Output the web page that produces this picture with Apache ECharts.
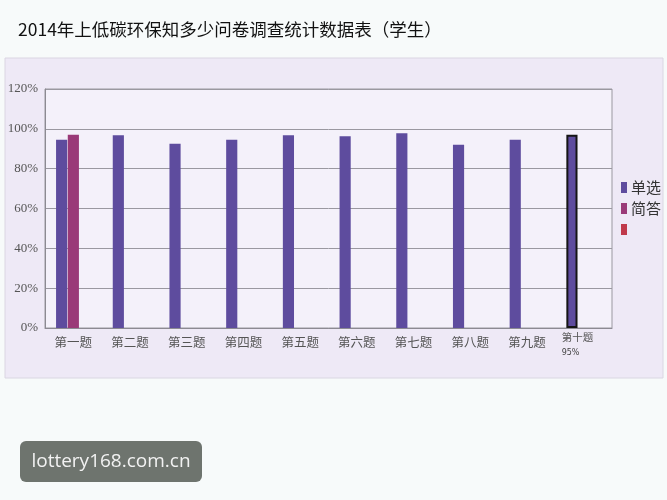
<!DOCTYPE html>
<html>
<head>
<meta charset="utf-8">
<script src="https://cdn.jsdelivr.net/npm/echarts@6/dist/echarts.min.js"></script>
<style>
html,body{margin:0;padding:0;background:#F7FAFA;}
#c{width:667px;height:500px;}
</style>
</head>
<body>
<div id="c"></div>
<script>
var titleText = '2014年上低碳环保知多少问卷调查统计数据表（学生）';
var categories = ['第一题','第二题','第三题','第四题','第五题','第六题','第七题','第八题','第九题','第十题'];
var categoryNotes = ['','','','','','','','','','95%'];
var seriesNames = ['单选','简答',' '];
var singleChoice = [94.5, 96.8, 92.5, 94.5, 96.8, 96.3, 97.8, 92, 94.5, 97];
var shortAnswer = [97, null, null, null, null, null, null, null, null, null];
var thirdSeries = [null, null, null, null, null, null, null, null, null, null];
var yTicks = {min: 0, max: 120, interval: 20};
var watermark = 'lottery168.com.cn';

var chart = echarts.init(document.getElementById('c'), null, {renderer: 'canvas'});

var singleData = singleChoice.map(function (v, i) {
  if (i === 9) {
    return {value: v, itemStyle: {borderColor: '#151515', borderWidth: 2}};
  }
  return v;
});

chart.setOption({
  backgroundColor: '#F7FAFA',
  title: {
    text: titleText,
    left: 13,
    top: 16,
    textStyle: {fontFamily: 'Noto Sans CJK SC', fontSize: 17.5, fontWeight: 'normal', color: '#111'}
  },
  graphic: [
    {type: 'rect', z: -10, shape: {x: 5, y: 58, width: 658, height: 320},
     style: {fill: '#EEE9F6', stroke: '#DAD6E2', lineWidth: 1}},
    {type: 'group', left: 20, top: 441, z: 100, children: [
      {type: 'rect', shape: {x: 0, y: 0, width: 182, height: 41, r: 6}, style: {fill: '#6E746E'}},
      {type: 'text', x: 91, y: 21, style: {text: watermark, fill: '#F2F2F2', font: '19px "Open Sans"', textAlign: 'center', textVerticalAlign: 'middle'}}
    ]}
  ],
  color: ['#5E4C9E', '#9A3A78', '#C0394B'],
  legend: {
    orient: 'vertical',
    left: 616,
    top: 175,
    icon: 'rect',
    itemWidth: 6,
    itemHeight: 11,
    itemGap: 6,
    data: seriesNames,
    textStyle: {fontFamily: 'Noto Sans CJK SC', fontSize: 15, color: '#333', padding: [0, 0, 0, -1]}
  },
  grid: {
    left: 45, right: 55, top: 89, bottom: 172,
    show: true,
    backgroundColor: '#F4F1FA',
    borderColor: '#9A98A0',
    borderWidth: 1
  },
  xAxis: {
    type: 'category',
    data: categories,
    axisLine: {lineStyle: {color: '#8C8A92', width: 1}},
    axisTick: {inside: true, length: 5, lineStyle: {color: '#8C8A92'}},
    axisLabel: {
      margin: 3,
      interval: 0,
      color: '#555',
      formatter: function (value, idx) {
        if (categoryNotes[idx]) {
          return '{t|' + value + '}\n{p|' + categoryNotes[idx] + '}';
        }
        return '{n|' + value + '}';
      },
      rich: {
        n: {fontFamily: 'Noto Sans CJK SC', fontSize: 12.5, color: '#555', lineHeight: 16, padding: [7, 0, 0, 0]},
        t: {fontFamily: 'Noto Sans CJK SC', fontSize: 10.5, color: '#555', lineHeight: 12, width: 32, align: 'left', padding: [0, 12, 0, 0]},
        p: {fontFamily: 'DejaVu Sans', fontSize: 8, color: '#444', lineHeight: 12, width: 32, align: 'left', padding: [8, 12, 0, 0]}
      }
    }
  },
  yAxis: {
    type: 'value',
    min: yTicks.min,
    max: yTicks.max,
    interval: yTicks.interval,
    axisLine: {show: true, lineStyle: {color: '#8C8A92'}},
    axisTick: {show: false},
    splitLine: {lineStyle: {color: '#9A98A0', width: 1}},
    axisLabel: {
      formatter: '{value}%',
      margin: 7,
      fontFamily: 'Liberation Serif',
      fontSize: 13,
      color: '#555'
    }
  },
  series: [
    {name: seriesNames[0], type: 'bar', data: singleData, barGap: '5%', barCategoryGap: '39%'},
    {name: seriesNames[1], type: 'bar', data: shortAnswer, barGap: '5%', barCategoryGap: '39%'},
    {name: seriesNames[2], type: 'bar', data: thirdSeries, barGap: '5%', barCategoryGap: '39%'}
  ]
});
</script>
</body>
</html>
